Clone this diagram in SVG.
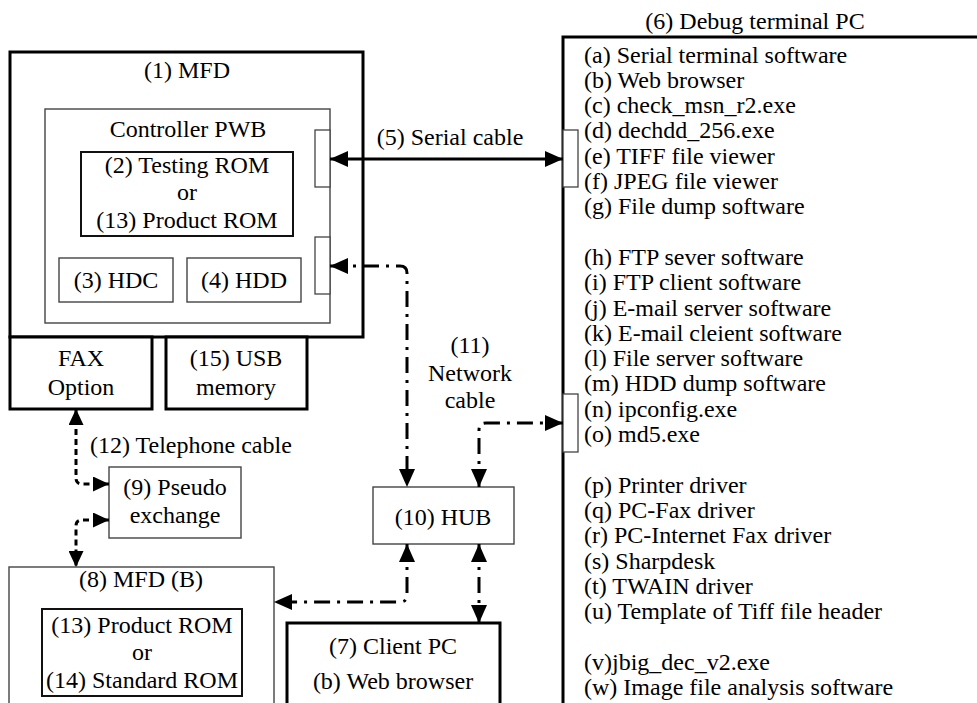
<svg xmlns="http://www.w3.org/2000/svg" width="977" height="703" viewBox="0 0 977 703">
  <style>
    text { font-family: "Liberation Serif", "Times New Roman", serif; font-size: 24px; fill: #000; }
    .c { text-anchor: middle; }
    .thick { fill: #fff; stroke: #000; stroke-width: 3; }
    .mid { fill: #fff; stroke: #111; stroke-width: 2; }
    .thin { fill: #fff; stroke: #444; stroke-width: 1.4; }
    .port { fill: #fff; stroke: #444; stroke-width: 1.3; }
    .wire { fill: none; stroke: #000; stroke-width: 3; }
    .serial { marker-start: url(#ah); marker-end: url(#ah); }
    .lan { stroke-dasharray: 16 7 3 7; marker-start: url(#ah); marker-end: url(#ah); }
    .tel { stroke-dasharray: 6 4; marker-start: url(#ahs); marker-end: url(#ahs); }
  </style>
  <defs>
    <marker id="ah" markerUnits="userSpaceOnUse" markerWidth="18" markerHeight="16" refX="18" refY="8" orient="auto-start-reverse">
      <path d="M0,0 L18,8 L0,16 Z" fill="#000"/>
    </marker>
    <marker id="ahs" markerUnits="userSpaceOnUse" markerWidth="16" markerHeight="15" refX="16" refY="7.5" orient="auto-start-reverse">
      <path d="M0,0 L16,7.5 L0,15 Z" fill="#000"/>
    </marker>
  </defs>

  <rect width="977" height="703" fill="#fff"/>

  <!-- (1) MFD with controller board -->
  <g id="mfd">
    <rect class="thick" x="10" y="52" width="353" height="285"/>
    <text class="c" x="187" y="78">(1) MFD</text>
    <rect class="thin" x="45" y="109" width="285" height="214"/>
    <text class="c" x="188" y="137">Controller PWB</text>
    <rect class="port" x="315" y="130" width="15" height="57"/>
    <rect class="port" x="315" y="237" width="15" height="57"/>
  </g>
  <g id="rom-testing">
    <rect class="mid" x="81" y="152" width="212" height="84"/>
    <text class="c" x="187" y="173">(2) Testing ROM</text>
    <text class="c" x="187" y="200">or</text>
    <text class="c" x="187" y="228">(13) Product ROM</text>
  </g>
  <g id="hdc">
    <rect class="thin" x="59" y="258" width="114" height="44"/>
    <text class="c" x="116" y="288">(3) HDC</text>
  </g>
  <g id="hdd">
    <rect class="thin" x="187" y="258" width="114" height="44"/>
    <text class="c" x="244" y="288">(4) HDD</text>
  </g>

  <g id="fax">
    <rect class="thick" x="10" y="337" width="142" height="72"/>
    <text class="c" x="81" y="366">FAX</text>
    <text class="c" x="81" y="395">Option</text>
  </g>
  <g id="usb">
    <rect class="thick" x="166" y="337" width="141" height="72"/>
    <text class="c" x="236" y="366">(15) USB</text>
    <text class="c" x="236" y="395">memory</text>
  </g>

  <!-- (6) Debug terminal PC -->
  <g id="debug-pc">
    <text class="c" x="755" y="29">(6) Debug terminal PC</text>
    <path class="wire" d="M563,705 V37 H980"/>
    <rect class="port" x="563" y="130" width="15" height="57"/>
    <rect class="port" x="563" y="394" width="15" height="58"/>
    <text x="584" y="62.5">(a) Serial terminal software</text>
    <text x="584" y="87.8">(b) Web browser</text>
    <text x="584" y="113.1">(c) check_msn_r2.exe</text>
    <text x="584" y="138.4">(d) dechdd_256.exe</text>
    <text x="584" y="163.7">(e) TIFF file viewer</text>
    <text x="584" y="189">(f) JPEG file viewer</text>
    <text x="584" y="214.3">(g) File dump software</text>
    <text x="584" y="264.9">(h) FTP sever software</text>
    <text x="584" y="290.2">(i) FTP client software</text>
    <text x="584" y="315.5">(j) E-mail server software</text>
    <text x="584" y="340.8">(k) E-mail cleient software</text>
    <text x="584" y="366.1">(l) File server software</text>
    <text x="584" y="391.4">(m) HDD dump software</text>
    <text x="584" y="416.7">(n) ipconfig.exe</text>
    <text x="584" y="442">(o) md5.exe</text>
    <text x="584" y="492.6">(p) Printer driver</text>
    <text x="584" y="517.9">(q) PC-Fax driver</text>
    <text x="584" y="543.2">(r) PC-Internet Fax driver</text>
    <text x="584" y="568.5">(s) Sharpdesk</text>
    <text x="584" y="593.8">(t) TWAIN driver</text>
    <text x="584" y="619.1">(u) Template of Tiff file header</text>
    <text x="584" y="669.7">(v)jbig_dec_v2.exe</text>
    <text x="584" y="695">(w) Image file analysis software</text>
  </g>

  <g id="pseudo-exchange">
    <rect class="thin" x="109" y="467" width="132" height="71"/>
    <text class="c" x="175" y="495">(9) Pseudo</text>
    <text class="c" x="175" y="523">exchange</text>
  </g>

  <g id="hub">
    <rect class="thin" x="373" y="487" width="141" height="57"/>
    <text class="c" x="443" y="525">(10) HUB</text>
  </g>

  <g id="mfd-b">
    <rect class="thin" x="9" y="567" width="265" height="150"/>
    <text class="c" x="141" y="587">(8) MFD (B)</text>
    <rect class="mid" x="42" y="609" width="200" height="87"/>
    <text class="c" x="142" y="633">(13) Product ROM</text>
    <text class="c" x="142" y="660">or</text>
    <text class="c" x="142" y="688">(14) Standard ROM</text>
  </g>

  <g id="client-pc">
    <rect class="thick" x="287" y="623" width="213" height="100"/>
    <text class="c" x="393" y="654">(7) Client PC</text>
    <text class="c" x="393" y="689">(b) Web browser</text>
  </g>

  <!-- cables -->
  <g id="connectors">
    <path class="wire serial" d="M330,159 H563"/>
    <path class="wire lan" d="M330,266 H400 Q407,266 407,273 V487"/>
    <path class="wire lan" d="M479,487 V430 Q479,423 486,423 H563"/>
    <path class="wire lan" d="M407,544 V595 Q407,602 400,602 H274"/>
    <path class="wire lan" d="M479,544 V623"/>
    <path class="wire tel" d="M76,409 V478 Q76,484 82,484 H109"/>
    <path class="wire tel" d="M109,520 H82 Q76,520 76,526 V567"/>
  </g>

  <g id="labels">
    <text class="c" x="450" y="145">(5) Serial cable</text>
    <text class="c" x="470" y="353">(11)</text>
    <text class="c" x="470" y="381">Network</text>
    <text class="c" x="470" y="408">cable</text>
    <text x="90" y="453">(12) Telephone cable</text>
  </g>
</svg>
